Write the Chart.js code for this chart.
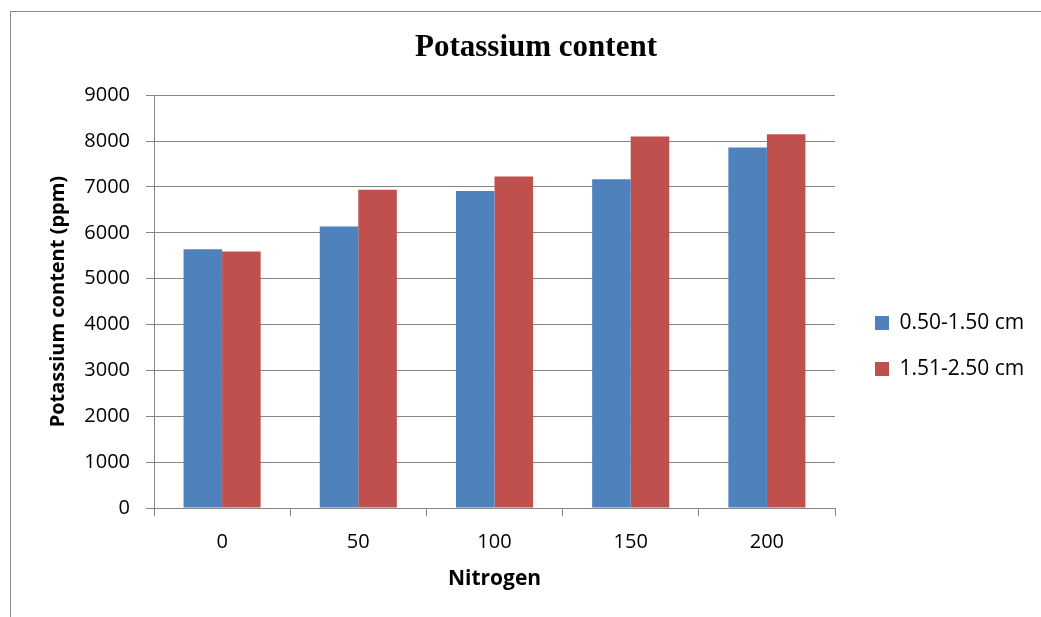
<!DOCTYPE html>
<html>
<head>
<meta charset="utf-8">
<title>Potassium content</title>
<script src="https://cdn.jsdelivr.net/npm/chart.js@4/dist/chart.umd.min.js"></script>
<style>
  html, body { margin: 0; padding: 0; background: #ffffff; overflow: hidden; }
  #wrap { width: 1041px; height: 617px; }
</style>
</head>
<body>
<div id="wrap"><canvas id="chart" width="1041" height="617"></canvas></div>
<script>
// Nitrogen rates (categories)
const nitrogen = ['0', '50', '100', '150', '200'];
// Potassium content (ppm) per root-diameter class
const seriesNames = ['0.50-1.50 cm', '1.51-2.50 cm'];
const smallRoots = [5640, 6140, 6910, 7170, 7860];
const largeRoots = [5590, 6940, 7230, 8100, 8150];
// Value axis
const yMin = 0, yMax = 9000, yStep = 1000;

const GRID = '#868686';
const SANS = "'Open Sans', 'Liberation Sans', sans-serif";

// Outer frame of the chart object
const framePlugin = {
  id: 'frame',
  beforeDraw(chart) {
    const ctx = chart.ctx;
    ctx.save();
    ctx.fillStyle = '#ffffff';
    ctx.fillRect(0, 0, chart.width, chart.height);
    ctx.strokeStyle = '#8c8c8c';
    ctx.lineWidth = 1;
    ctx.strokeRect(10.5, 11.5, chart.width + 40, chart.height + 40);
    ctx.restore();
  }
};

// Reserve a fixed-width column for the legend and place its block
// to the right of the plot, a little below mid-height
const LEGEND_COL = 206;
const legendPlacePlugin = {
  id: 'legendPlace',
  beforeLayout(chart) {
    const lg = chart.legend;
    if (!lg || lg._fixedFit) return;
    const fit = lg.fit;
    lg.fit = function () {
      fit.call(this);
      this.width = LEGEND_COL;
    };
    lg._fixedFit = true;
  },
  afterLayout(chart) {
    const lg = chart.legend;
    if (!lg) return;
    lg.left = chart.chartArea.right + 15;
    lg.top = 287.5;
    lg.bottom = lg.top + 200;
  }
};

new Chart(document.getElementById('chart'), {
  type: 'bar',
  data: {
    labels: nitrogen,
    datasets: [
      { label: seriesNames[0], data: smallRoots, backgroundColor: '#4F81BD', borderWidth: 0 },
      { label: seriesNames[1], data: largeRoots, backgroundColor: '#C0504D', borderWidth: 0 }
    ]
  },
  options: {
    responsive: false,
    animation: false,
    devicePixelRatio: 1,
    layout: { padding: { left: 31, right: 0, top: 0, bottom: 0 } },
    datasets: { bar: { categoryPercentage: 0.566, barPercentage: 1.0 } },
    plugins: {
      title: {
        display: true,
        text: 'Potassium content',
        color: '#000000',
        font: { family: "'Liberation Serif', 'Times New Roman', serif", size: 31, weight: 'bold' },
        padding: { top: 29.5, bottom: 28.5 }
      },
      legend: {
        display: true,
        position: 'right',
        align: 'start',
        labels: {
          boxWidth: 14,
          boxHeight: 14,
          padding: 25,
          color: '#000000',
          font: { family: SANS, size: 21 }
        }
      },
      tooltip: { enabled: false }
    },
    scales: {
      x: {
        grid: { display: true, drawOnChartArea: false, drawTicks: true, tickLength: 8, color: GRID, offset: true },
        border: { display: true, color: GRID, width: 1 },
        ticks: { color: '#000000', padding: 14, font: { family: SANS, size: 20 } },
        title: {
          display: true,
          text: 'Nitrogen',
          color: '#000000',
          font: { family: SANS, size: 21, weight: 'bold' },
          padding: { top: 0, bottom: 25 }
        },
        afterFit(scale) { scale.height = 109; }
      },
      y: {
        min: yMin,
        max: yMax,
        grid: { color: GRID, drawTicks: true, tickLength: 8, lineWidth: 1 },
        border: { display: true, color: GRID, width: 1 },
        ticks: {
          stepSize: yStep,
          color: '#000000',
          padding: 16,
          font: { family: SANS, size: 20 },
          callback: (v) => String(v)
        },
        title: {
          display: true,
          text: 'Potassium content (ppm)',
          color: '#000000',
          font: { family: SANS, size: 20, weight: 'bold' },
          padding: { top: 15, bottom: 0 }
        },
        afterFit(scale) { scale.width = 123; }
      }
    }
  },
  plugins: [framePlugin, legendPlacePlugin]
});
</script>
</body>
</html>
